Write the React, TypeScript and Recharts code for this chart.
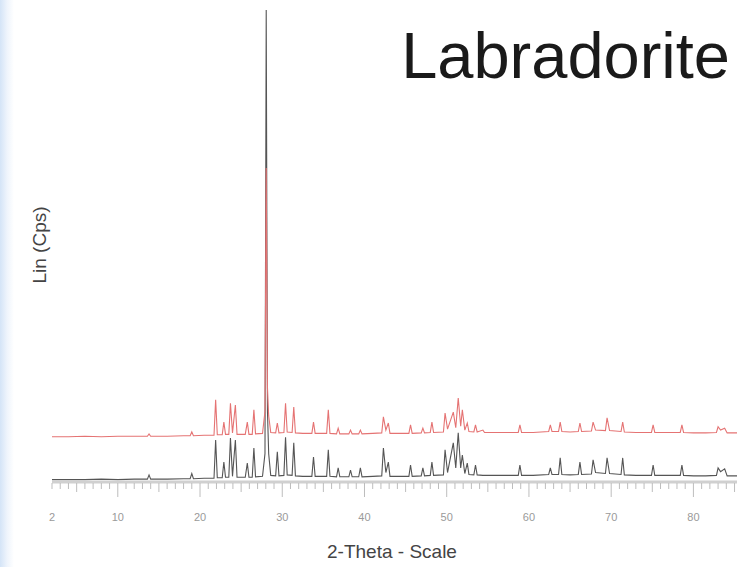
import { LineChart, Line, XAxis, YAxis } from "recharts";

// 2-theta (deg) vs counts
const lowerScan = [
  [2, 5], [4, 5], [6, 5], [8, 6], [10, 5], [12, 6], [13.6, 6], [13.8, 15], [14.0, 6],
  [16, 6], [18, 7], [18.8, 7], [19.0, 18], [19.2, 7], [20.5, 8], [21.7, 8], [21.9, 89],
  [22.1, 9], [22.7, 9], [22.9, 42], [23.1, 10], [23.5, 10], [23.7, 93], [23.95, 12],
  [24.3, 89], [24.5, 10], [25.5, 10], [25.75, 40], [25.95, 10], [26.35, 10], [26.55, 72],
  [26.75, 11], [27.6, 12], [27.9, 60], [28.05, 1000], [28.2, 150], [28.35, 60], [28.6, 14],
  [29.2, 13], [29.4, 64], [29.6, 13], [30.2, 14], [30.4, 95], [30.6, 15], [31.2, 14],
  [31.4, 83], [31.6, 13], [32.5, 12], [33.6, 12], [33.8, 53], [34.0, 12], [35.4, 12],
  [35.6, 68], [35.8, 12], [36.6, 11], [36.8, 30], [37.0, 11], [38.1, 11], [38.3, 25],
  [38.5, 11], [39.3, 11], [39.5, 30], [39.7, 11], [41, 12], [42.1, 13], [42.3, 72],
  [42.6, 20], [42.9, 42], [43.1, 12], [44, 12], [45.4, 12], [45.6, 36], [45.8, 12],
  [46.9, 13], [47.1, 30], [47.3, 13], [48.0, 14], [48.2, 42], [48.4, 14], [49.6, 15],
  [49.8, 68], [50.1, 20], [50.8, 83], [51.1, 30], [51.4, 104], [51.7, 30], [51.9, 57],
  [52.2, 18], [52.5, 40], [52.7, 16], [53.3, 15], [53.5, 36], [53.7, 15], [54.4, 14],
  [56, 14], [57.5, 14], [58.7, 14], [58.9, 36], [59.1, 14], [60.5, 14], [62.4, 16],
  [62.6, 30], [62.8, 16], [63.6, 16], [63.8, 51], [64.0, 16], [65, 15], [66.0, 16],
  [66.2, 42], [66.4, 16], [67.6, 17], [67.8, 47], [68.1, 20], [69.3, 18], [69.5, 51],
  [69.8, 18], [71.2, 16], [71.4, 51], [71.6, 15], [73, 14], [74.9, 14], [75.1, 36],
  [75.3, 14], [77, 14], [78.4, 14], [78.6, 36], [78.8, 14], [80, 13], [81.5, 13],
  [82.8, 14], [83.0, 30], [83.3, 22], [83.8, 28], [84.1, 13], [85.3, 13],
];

const upperScan = [
  [2, 96], [4, 96], [6, 97], [8, 96], [10, 97], [12, 97], [13.6, 97], [13.8, 102], [14.0, 97],
  [16, 97], [18, 98], [18.8, 98], [19.0, 106], [19.2, 98], [20.5, 99], [21.7, 99], [21.9, 174],
  [22.1, 100], [22.7, 100], [22.9, 127], [23.1, 101], [23.5, 101], [23.7, 167], [23.95, 104],
  [24.3, 163], [24.5, 101], [25.5, 101], [25.75, 127], [25.95, 101], [26.35, 101], [26.55, 153],
  [26.75, 102], [27.6, 103], [27.9, 150], [28.05, 665], [28.2, 200], [28.35, 140], [28.6, 105],
  [29.2, 104], [29.4, 125], [29.6, 104], [30.2, 105], [30.4, 167], [30.6, 106], [31.2, 105],
  [31.4, 159], [31.6, 104], [32.5, 103], [33.6, 103], [33.8, 127], [34.0, 103], [35.4, 103],
  [35.6, 153], [35.8, 103], [36.6, 102], [36.8, 114], [37.0, 102], [38.1, 102], [38.3, 110],
  [38.5, 102], [39.3, 102], [39.5, 110], [39.7, 102], [41, 103], [42.1, 104], [42.3, 138],
  [42.6, 110], [42.9, 125], [43.1, 103], [44, 103], [45.4, 103], [45.6, 121], [45.8, 103],
  [46.9, 104], [47.1, 114], [47.3, 104], [48.0, 105], [48.2, 127], [48.4, 105], [49.6, 106],
  [49.8, 146], [50.1, 112], [50.8, 148], [51.1, 115], [51.4, 178], [51.7, 118], [51.9, 153],
  [52.2, 110], [52.5, 125], [52.7, 107], [53.3, 106], [53.5, 121], [53.7, 106], [54.4, 110],
  [54.6, 105], [56, 105], [57.5, 105], [58.7, 105], [58.9, 121], [59.1, 105], [60.5, 105],
  [62.4, 107], [62.6, 121], [62.8, 107], [63.6, 107], [63.8, 127], [64.0, 107], [65, 106],
  [66.0, 107], [66.2, 125], [66.4, 107], [67.6, 108], [67.8, 127], [68.1, 110], [69.3, 109],
  [69.5, 136], [69.8, 109], [71.2, 107], [71.4, 127], [71.6, 106], [73, 105], [74.9, 105],
  [75.1, 121], [75.3, 105], [77, 105], [78.4, 105], [78.6, 121], [78.8, 105], [80, 104],
  [81.5, 104], [82.8, 105], [83.0, 117], [83.3, 110], [83.8, 114], [84.1, 104], [85.3, 104],
];

const labelledTicks = [2, 10, 20, 30, 40, 50, 60, 70, 80];

const lower = lowerScan.map(([x, y]) => ({ x, y }));
const upper = upperScan.map(([x, y]) => ({ x, y }));

const allTicks: number[] = [];
for (let t = 2; t <= 85; t++) allTicks.push(t);

const AxisTick = (props: any) => {
  const { x, y, payload } = props;
  const v = payload.value;
  const len = v % 10 === 0 ? 15 : v % 5 === 0 ? 10 : 7;
  return (
    <g>
      <line x1={x} x2={x} y1={y + 1} y2={y + len} stroke="#bdbdbd" strokeWidth={1} />
      {labelledTicks.includes(v) && (
        <text x={x} y={y + 39} textAnchor="middle" fontSize={11} fill="#9a9a9a" fontFamily="Liberation Sans, Arial, sans-serif">
          {v}
        </text>
      )}
    </g>
  );
};

export default function App() {
  return (
    <div style={{ position: "absolute", left: 0, top: 0, width: 747, height: 567, background: "#fff", overflow: "hidden" }}>
      <div style={{ position: "absolute", left: 0, top: 0, width: 14, height: 567, background: "linear-gradient(to right, #d4e4f7, #eef4fc 50%, #fff)" }} />
      <LineChart width={747} height={567} data={lower} margin={{ top: 10, right: 10, left: 52, bottom: 55 }}>
        <XAxis
          dataKey="x"
          type="number"
          domain={[2, 85.3]}
          ticks={allTicks}
          interval={0}
          tick={<AxisTick />}
          tickLine={false}
          tickSize={0}
          tickMargin={0}
          height={30}
          axisLine={{ stroke: "#d0d0d0", strokeWidth: 3 }}
          allowDataOverflow
        />
        <YAxis
          type="number"
          domain={[0, 1000]}
          width={0}
          tick={false}
          tickLine={false}
          axisLine={{ stroke: "#dcdcdc", strokeWidth: 3 }}
          allowDataOverflow
        />
        <Line data={lower} dataKey="y" type="linear" stroke="#555" strokeWidth={1.1} dot={false} isAnimationActive={false} />
        <Line data={upper} dataKey="y" type="linear" stroke="#e57373" strokeWidth={1.1} dot={false} isAnimationActive={false} />
        <text x={730} y={78} textAnchor="end" fontSize={65} fill="#1a1a1a" fontFamily="Liberation Sans, Arial, sans-serif">
          Labradorite
        </text>
        <text
          x={41}
          y={245}
          transform="rotate(-90 41 245)"
          textAnchor="middle"
          dominantBaseline="middle"
          fontSize={19}
          fill="#444"
          fontFamily="Liberation Sans, Arial, sans-serif"
        >
          Lin (Cps)
        </text>
        <text x={392} y={558} textAnchor="middle" fontSize={19} fill="#444" fontFamily="Liberation Sans, Arial, sans-serif">
          2-Theta - Scale
        </text>
      </LineChart>
    </div>
  );
}
